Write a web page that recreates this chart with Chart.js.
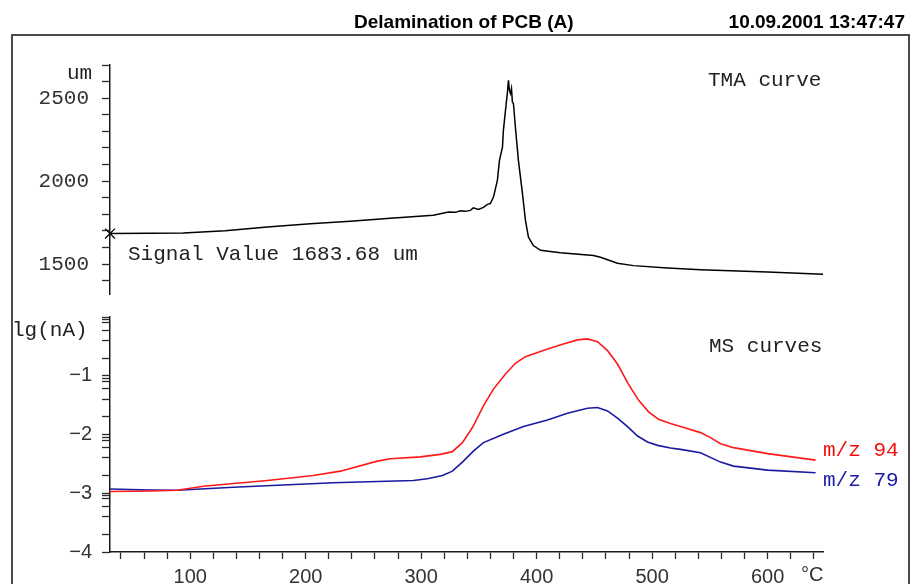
<!DOCTYPE html>
<html>
<head>
<meta charset="utf-8">
<script src="https://cdn.jsdelivr.net/npm/chart.js@4.4.1/dist/chart.umd.min.js"></script>
<style>
  body { margin: 0; background: #fff; }
  #wrap { position: relative; width: 914px; height: 584px; overflow: hidden; background: #fff; }
  canvas { position: absolute; left: 0; top: 0; }
  .frame { position: absolute; left: 11px; top: 34px; width: 899px; height: 600px; border: 2px solid #4a4a4a; box-sizing: border-box; }
  .txt { position: absolute; white-space: nowrap; }
  .mono { font-family: "Liberation Mono", "DejaVu Sans Mono", monospace; font-size: 21px; line-height: 21px; color: #222; }
  .head { font-family: "Liberation Sans", Arial, sans-serif; font-weight: bold; font-size: 19px; line-height: 19px; color: #000; }
  .sans { font-family: "Liberation Sans", Arial, sans-serif; font-size: 20px; line-height: 20px; color: #333; }
</style>
</head>
<body>
<div id="wrap">
  <div class="frame"></div>
  <canvas id="tma" width="914" height="584"></canvas>
  <canvas id="ms" width="914" height="584"></canvas>

  <div class="txt head" style="left:354px; top:12px;">Delamination of PCB (A)</div>
  <div class="txt head" style="right:9px; top:12px;">10.09.2001 13:47:47</div>

  <div class="txt mono" style="left:67px; top:63px;">um</div>
  <div class="txt mono" style="left:708px; top:70px;">TMA curve</div>
  <div class="txt mono" style="left:128px; top:244px;">Signal Value 1683.68 um</div>

  <div class="txt mono" style="left:12px; top:320px;">lg(nA)</div>
  <div class="txt mono" style="left:709px; top:336px;">MS curves</div>
  <div class="txt mono" style="left:823px; top:440px; color:#f01010;">m/z 94</div>
  <div class="txt mono" style="left:823px; top:470px; color:#1c1ca8;">m/z 79</div>

  <div class="txt sans" style="left:801px; top:564px;">°C</div>
</div>

<script>
/* ------------------------------------------------ */
// data

let xMin = 30.5;
let xMax = 648;

// TMA curve (um vs. °C)
let tmaTemp = [30.5, 65, 93.9, 130.3, 166.7, 204, 238.6, 273.3, 310.6, 323.6, 329.6, 334, 338.3,
  342.6, 345.2, 349.6, 353.9, 357.4, 360, 362.6, 366, 367.8, 370.4, 371.2, 373, 374.7, 375.6,
  376.4, 377.3, 378.2, 379, 379.9, 381.6, 384.2, 387.7, 390.3, 392.9, 397.2, 403.3, 420.6,
  449.2, 455.3, 470, 483.9, 513.3, 542, 600, 648];
let tmaVal = [1684, 1686, 1688, 1701, 1724, 1743, 1758, 1776, 1794, 1814, 1812, 1821, 1818,
  1824, 1839, 1830, 1842, 1860, 1866, 1904, 2005, 2125, 2205, 2306, 2426, 2536, 2607,
  2547, 2529, 2559, 2476, 2468, 2325, 2125, 1926, 1763, 1662, 1612, 1583, 1568,
  1552, 1541, 1505, 1491, 1477, 1466, 1452, 1439];

// MS curve m/z 94, lg(nA)
let mz94Temp = [30.5, 65.3, 88.7, 111.3, 166.7, 206.6, 230, 262, 273.3, 299.3, 316.6, 327, 335.7,
  344.4, 353.9, 362.6, 373, 381.6, 390.3, 409.4, 423.2, 435.4, 444, 452.7, 461.4, 470,
  479.5, 488.2, 496.9, 505.5, 515.9, 524.6, 541.9, 550.6, 559.3, 570.5, 600, 641.6];
let mz94 = [-2.971, -2.962, -2.949, -2.880, -2.783, -2.697, -2.624, -2.453, -2.412, -2.381, -2.338, -2.292, -2.138,
  -1.882, -1.513, -1.227, -0.971, -0.788, -0.675, -0.544, -0.458, -0.390, -0.373, -0.419, -0.573, -0.800,
  -1.142, -1.415, -1.615, -1.740, -1.814, -1.865, -1.968, -2.053, -2.156, -2.224, -2.326, -2.436];

// MS curve m/z 79, lg(nA)
let mz79Temp = [30.5, 65.3, 88.7, 137.3, 223.9, 293.2, 305.4, 318.4, 327, 336.6, 345.2, 353.9,
  371.2, 388.6, 409.4, 426.7, 444, 452.7, 461.4, 470, 478.7, 487.4, 496, 504.7, 515.9,
  524.6, 541.9, 559.3, 570.5, 600, 641.6];
let mz79 = [-2.928, -2.945, -2.949, -2.897, -2.822, -2.783, -2.754, -2.697, -2.624, -2.453, -2.282, -2.138,
  -1.997, -1.865, -1.752, -1.638, -1.552, -1.540, -1.598, -1.723, -1.865, -2.026, -2.128, -2.185, -2.231,
  -2.253, -2.309, -2.470, -2.538, -2.607, -2.651];

// tick positions
let tmaTicks = [1400, 1500, 1600, 1700, 1800, 1900, 2000, 2100, 2200, 2300, 2400, 2500, 2600, 2700];
let tmaLabels = [1500, 2000, 2500];
let msDecades = [-4, -3, -2, -1];
let msMantissa = [1, 2, 4, 6, 8, 9];
let tempTicks = [40, 60, 80, 100, 120, 140, 160, 180, 200, 220, 240, 260, 280, 300, 320, 340,
  360, 380, 400, 420, 440, 460, 480, 500, 520, 540, 560, 580, 600, 620, 640];
let tempLabels = [100, 200, 300, 400, 500, 600];

/* ------------------------------------------------ */

function toPoints(xs, ys) {
  return xs.map((x, i) => ({ x: x, y: ys[i] }));
}

let axisColor = '#1a1a1a';
let tickColor = '#2a2a2a';

function baseOptions(padding) {
  return {
    responsive: false,
    animation: false,
    events: [],
    layout: { padding: padding },
    plugins: { legend: { display: false }, tooltip: { enabled: false } },
  };
}

/* ------------------------------------------------ */

function generateTma() {
  let ctx = document.getElementById('tma').getContext('2d');
  let options = baseOptions({ left: 0, right: 91, top: 65, bottom: 290 });
  options.scales = {
    x: { type: 'linear', min: xMin, max: xMax, display: false },
    y: {
      type: 'linear',
      min: 1320,
      max: 2700,
      afterFit: (s) => { s.width = 110; },
      afterBuildTicks: (s) => { s.ticks = tmaTicks.map((v) => ({ value: v })); },
      ticks: {
        autoSkip: false,
        padding: 13,
        color: '#333',
        font: { family: 'Liberation Mono', size: 21 },
        callback: (v) => tmaLabels.includes(v) ? String(v) : '',
      },
      grid: { drawOnChartArea: false, drawTicks: true, tickLength: 8, tickColor: tickColor, tickWidth: 1.3 },
      border: { display: true, color: axisColor, width: 1.5 },
    },
  };

  let config = {
    type: 'line',
    data: {
      datasets: [{
        data: toPoints(tmaTemp, tmaVal),
        borderColor: '#000',
        borderWidth: 1.5,
        tension: 0,
        clip: false,
        pointStyle: 'crossRot',
        pointRadius: (c) => c.dataIndex == 0 ? 7 : 0,
        pointBorderColor: '#000',
        pointBorderWidth: 1.3,
      }],
    },
    options: options,
  };
  return new Chart(ctx, config);
}

/* ------------------------------------------------ */

function generateMs() {
  let ctx = document.getElementById('ms').getContext('2d');
  let options = baseOptions({ left: 0, right: 91, top: 317, bottom: 0 });

  let msTicks = [];
  msDecades.forEach((d) => {
    msMantissa.forEach((m) => msTicks.push(d + Math.log10(m)));
  });
  msTicks.push(0);

  options.scales = {
    x: {
      type: 'linear',
      min: xMin,
      max: xMax,
      afterFit: (s) => { s.height = 32; },
      afterBuildTicks: (s) => { s.ticks = tempTicks.map((v) => ({ value: v })); },
      ticks: {
        autoSkip: false,
        maxRotation: 0,
        padding: 6,
        color: '#333',
        font: { family: 'Liberation Sans', size: 20 },
        callback: (v) => tempLabels.includes(v) ? String(v) : '',
      },
      grid: { drawOnChartArea: false, drawTicks: true, tickLength: 7, tickColor: tickColor, tickWidth: 1.3 },
      border: { display: true, color: axisColor, width: 1.5 },
    },
    y: {
      type: 'linear',
      min: -4,
      max: 0,
      afterFit: (s) => { s.width = 110; },
      afterBuildTicks: (s) => { s.ticks = msTicks.map((v) => ({ value: v })); },
      ticks: {
        autoSkip: false,
        padding: 10,
        color: '#333',
        font: { family: 'Liberation Sans', size: 20 },
        callback: (v) => (Number.isInteger(v) && v < 0) ? '\u2212' + Math.abs(v) : '',
      },
      grid: { drawOnChartArea: false, drawTicks: true, tickLength: 8, tickColor: tickColor, tickWidth: 1.3 },
      border: { display: true, color: axisColor, width: 1.5 },
    },
  };

  let config = {
    type: 'line',
    data: {
      datasets: [
        {
          label: 'm/z 94',
          data: toPoints(mz94Temp, mz94),
          borderColor: '#ff1a1a',
          borderWidth: 1.6,
          tension: 0,
          pointRadius: 0,
        },
        {
          label: 'm/z 79',
          data: toPoints(mz79Temp, mz79),
          borderColor: '#1a1aa0',
          borderWidth: 1.6,
          tension: 0,
          pointRadius: 0,
        },
      ],
    },
    options: options,
  };
  return new Chart(ctx, config);
}

/* ------------------------------------------------ */

generateTma();
generateMs();
</script>
</body>
</html>
